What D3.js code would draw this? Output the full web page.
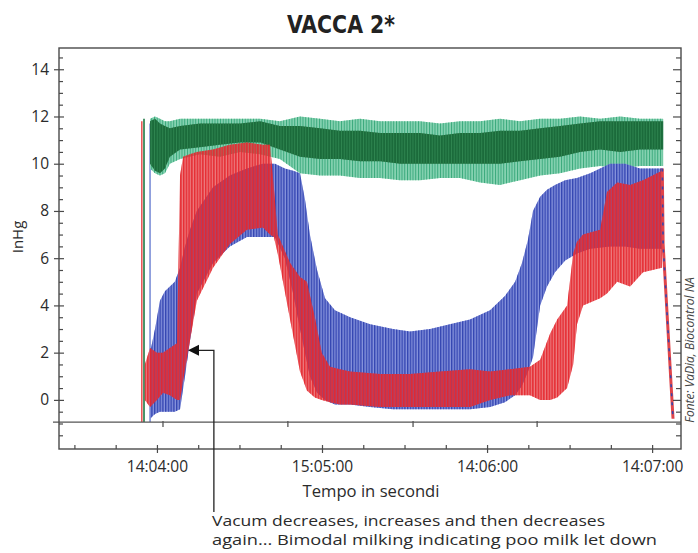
<!DOCTYPE html>
<html><head><meta charset="utf-8">
<script src="https://cdn.jsdelivr.net/npm/d3@7"></script>
<style>body{margin:0;background:#fff}svg{display:block}</style>
</head><body>
<svg id="c" width="698" height="553"></svg>
<script>
// ---------- DATA (time in seconds after 14:03:00, values in InHg) ----------
const title = "VACCA 2*";
const yLabel = "InHg";
const xLabel = "Tempo in secondi";
const source = "Fonte: VaDia, Biocontrol NA";
const noteLines = ["Vacum decreases, increases and then decreases",
                   "again... Bimodal milking indicating poo milk let down"];
const yTicks = [0, 2, 4, 6, 8, 10, 12, 14];
const xTicks = [60, 120, 180, 240];
const xTickLabels = ["14:04:00", "15:05:00", "14:06:00", "14:07:00"];
const baselineValue = -0.94;
const baselineTicks = [62.2, 107.6, 153.1, 198.2];

// green series (envelope of the pulsation: outer and core)
const greenT   = [57.5,59.3,61.1,62.9,64.7,68.4,75.6,82.9,90.2,97.5,104.7,112,119.3,126.5,133.8,141.1,148.4,155.6,162.9,170.2,177.5,184.7,192,199.3,206.5,213.8,221.1,228.4,235.6,242.9,244.0];
const greenLo  = [9.8,9.6,9.5,9.6,10.0,10.2,10.4,10.3,10.5,10.4,10.2,9.6,9.5,9.5,9.4,9.4,9.3,9.3,9.4,9.4,9.2,9.1,9.3,9.5,9.6,9.8,9.9,9.8,9.9,9.9,9.9];
const greenHi  = [11.9,12.0,11.9,11.8,11.8,11.9,11.9,11.9,11.9,11.9,11.8,12.0,11.9,11.8,11.9,11.8,11.8,11.8,11.7,11.8,11.8,11.9,11.8,11.9,11.9,12.0,11.9,12.0,11.9,11.9,11.9];
const greenCLo = [10.0,9.7,9.6,9.8,10.3,10.6,10.7,10.8,10.9,10.9,10.6,10.3,10.2,10.2,10.1,10.1,10.0,10.0,10.0,10.0,10.0,10.0,10.1,10.2,10.3,10.5,10.6,10.5,10.6,10.6,10.6];
const greenCHi = [11.8,11.9,11.7,11.6,11.5,11.6,11.7,11.7,11.7,11.8,11.6,11.6,11.5,11.4,11.4,11.3,11.3,11.3,11.2,11.3,11.3,11.4,11.4,11.5,11.6,11.7,11.8,11.8,11.8,11.8,11.8];

// blue series envelope
const blueT  = [57.5,59.3,61.1,62.9,64.7,66.5,68.4,70.2,72.0,74.5,80.4,86.5,92.7,98.5,102.9,106.5,109.5,112.0,113.8,115.6,118.2,121.1,124.7,130.2,137.5,145.8,152.0,159.3,166.5,173.8,181.1,186.5,190.2,192.7,194.9,196.7,199.3,201.8,204.7,208.4,212.7,217.5,224.7,230.2,235.6,241.1,243.6];
const blueLo = [-0.8,-0.6,-0.5,-0.5,-0.5,-0.5,-0.4,1.0,2.5,4.5,5.8,6.5,6.9,6.9,6.9,6.0,4.5,3.0,2.0,1.0,0.3,0.0,-0.2,-0.2,-0.3,-0.4,-0.4,-0.4,-0.4,-0.4,-0.3,-0.1,0.2,0.6,1.2,1.8,4.0,4.8,5.4,5.9,6.2,6.4,6.5,6.5,6.4,6.4,6.4];
const blueHi = [2.0,3.0,4.2,4.6,4.8,5.0,5.6,6.5,7.2,8.0,9.0,9.5,9.8,10.0,10.0,9.8,9.7,9.6,8.5,7.0,5.5,4.3,3.8,3.5,3.2,3.0,2.9,3.0,3.2,3.4,3.8,4.4,5.0,5.8,6.8,8.0,8.6,8.9,9.1,9.3,9.4,9.6,10.0,10.0,9.8,9.8,9.8];

// red series envelope
const redT  = [55.6,57.5,60.0,62.2,64.7,67.3,68.4,69.5,72.0,74.5,80.4,86.5,92.7,98.5,101.1,102.5,103.9,108.4,112.0,114.5,117.4,119.9,122.9,126.5,130.2,141.1,152.0,162.9,173.8,181.1,188.4,195.6,199.3,202.9,205.5,209.1,211.3,212.7,214.9,221.1,223.6,227.3,232.0,236.7,243.6];
const redLo = [0.0,-0.3,0.0,0.3,0.2,0.0,0.0,0.8,2.5,4.2,5.6,6.6,7.2,7.3,7.0,6.9,6.2,3.4,1.2,0.4,0.1,0.0,-0.1,-0.2,-0.2,-0.3,-0.3,-0.3,-0.3,0.0,0.2,0.2,0.0,0.0,0.1,0.5,1.5,3.2,4.0,4.3,4.5,5.0,4.8,5.4,5.6];
const redHi = [1.5,2.2,2.0,2.0,2.2,2.4,9.5,10.3,10.4,10.5,10.6,10.8,10.9,10.8,10.8,9.0,7.0,5.8,5.2,5.0,3.5,2.0,1.4,1.3,1.2,1.1,1.1,1.2,1.3,1.2,1.3,1.4,1.7,2.8,3.4,4.0,6.2,6.7,7.0,7.2,8.8,9.2,9.1,9.3,9.7];

// initial vacuum rise (one thin line per series) and final drop
const riseSeries = ["red", "green", "blue"];
const riseT      = [54.5, 55.3, 57.5];
const riseTop    = [11.8, 11.9, 11.7];
const dropT = [243.7, 244.0, 247.6];
const dropV = [9.8, 6.6, -0.8];

// annotation arrow (points at the first vacuum dip)
const arrowTipT = 71.3, arrowKneeT = 80.7, arrowV = 2.1;

// ---------- CHART ----------
const W = 698, H = 553;
const margin = {top: 48, right: 17, bottom: 104, left: 59};
const svg = d3.select("#c");
const x = d3.scaleLinear().domain([24.4, 250.5]).range([margin.left, W - margin.right]);
const y = d3.scaleLinear().domain([-2.08, 14.9]).range([H - margin.bottom, margin.top]);
const font = "'Open Sans', 'DejaVu Sans', sans-serif";
const ink = "#2b2b2b";

const defs = svg.append("defs");
function stripe(id, color, w, off) {
  defs.append("pattern").attr("id", id).attr("patternUnits", "userSpaceOnUse")
    .attr("width", 2.75).attr("height", 8).attr("x", off || 0)
    .append("rect").attr("width", w).attr("height", 8).attr("fill", color);
}
stripe("sGreenO", "#3aa97c", 1.0);
stripe("sGreenC", "#2f8650", 0.9);
stripe("sBlue", "#3446b2", 1.4);
stripe("sRed", "#e5232a", 1.5, 1.4);
defs.append("clipPath").attr("id", "plotClip").append("rect")
  .attr("x", margin.left).attr("y", margin.top)
  .attr("width", W - margin.left - margin.right).attr("height", H - margin.top - margin.bottom);

const zip = (T, lo, hi) => T.map((t, i) => ({t, lo: lo[i], hi: hi[i]}));
const area = d3.area().x(d => x(d.t)).y0(d => y(d.lo)).y1(d => y(d.hi)).curve(d3.curveLinear);

const plot = svg.append("g").attr("clip-path", "url(#plotClip)");

// rise lines
const riseColor = {red: "#ea5a5a", green: "#1f7a45", blue: "#7d8fd8"};
plot.selectAll("line.rise").data(riseT).join("line")
  .attr("x1", d => x(d)).attr("x2", d => x(d))
  .attr("y1", y(baselineValue)).attr("y2", (d, i) => y(riseTop[i]))
  .attr("stroke", (d, i) => riseColor[riseSeries[i]]).attr("stroke-width", 1.6);

// green
const gData = zip(greenT, greenLo, greenHi), gCore = zip(greenT, greenCLo, greenCHi);
plot.append("path").datum(gData).attr("d", area).attr("fill", "#86d2b1");
plot.append("path").datum(gData).attr("d", area).attr("fill", "url(#sGreenO)");
plot.append("path").datum(gCore).attr("d", area).attr("fill", "#1b6b3b");
plot.append("path").datum(gCore).attr("d", area).attr("fill", "url(#sGreenC)");

// blue
const bData = zip(blueT, blueLo, blueHi);
plot.append("path").datum(bData).attr("d", area).attr("fill", "#8693dc");
plot.append("path").datum(bData).attr("d", area).attr("fill", "url(#sBlue)");

// red (semi-transparent base -> purple tint where it overlaps blue)
const rData = zip(redT, redLo, redHi);
plot.append("path").datum(rData).attr("d", area).attr("fill", "#e2383e").attr("fill-opacity", 0.66);
plot.append("path").datum(rData).attr("d", area).attr("fill", "url(#sRed)").attr("opacity", 0.92);

// final drop
const drop = dropT.map((t, i) => ({t, v: dropV[i]}));
const dl = d3.line().x(d => x(d.t)).y(d => y(d.v));
plot.append("path").datum(drop).attr("d", dl).attr("fill", "none").attr("stroke", "#e0454a").attr("stroke-width", 3);
plot.append("path").datum(drop).attr("d", dl).attr("fill", "none").attr("stroke", "#3346b0")
  .attr("stroke-width", 1.6).attr("stroke-dasharray", "3 6");

// baseline line with its ticks (extends a bit left of the axis)
svg.append("line").attr("x1", margin.left - 6).attr("x2", W - margin.right)
  .attr("y1", y(baselineValue)).attr("y2", y(baselineValue))
  .attr("stroke", "#555").attr("stroke-width", 1.3);
svg.selectAll("line.bt").data(baselineTicks).join("line")
  .attr("x1", d => x(d)).attr("x2", d => x(d))
  .attr("y1", y(baselineValue) - 1).attr("y2", y(baselineValue) + 5)
  .attr("stroke", "#555").attr("stroke-width", 1.3);

// frame
svg.append("rect").attr("x", margin.left).attr("y", margin.top)
  .attr("width", W - margin.left - margin.right).attr("height", H - margin.top - margin.bottom)
  .attr("fill", "none").attr("stroke", "#4a4a4a").attr("stroke-width", 1.4);

function styleAxis(g) {
  g.select(".domain").remove();
  g.selectAll(".tick line").attr("stroke", "#4a4a4a").attr("stroke-width", 1.2);
  g.selectAll("text").attr("fill", ink).style("font-family", font).style("font-size", "15.5px");
}
const yMinor = d3.range(-2, 15, 0.5).filter(v => v % 2 !== 0);
const xMinor = d3.range(30, 250, 15).filter(v => !xTicks.includes(v));

// left axis
const gL = svg.append("g").attr("transform", `translate(${margin.left},0)`)
  .call(d3.axisLeft(y).tickValues(yTicks).tickSize(5).tickPadding(5)).call(styleAxis);
gL.selectAll(".tick line").attr("x2", -5).attr("x1", 5);
svg.append("g").attr("transform", `translate(${margin.left},0)`)
  .call(d3.axisLeft(y).tickValues(yMinor).tickSize(-4).tickFormat("")).call(styleAxis);
// right axis (inward ticks)
svg.append("g").attr("transform", `translate(${W - margin.right},0)`)
  .call(d3.axisRight(y).tickValues(yTicks).tickSize(-8).tickFormat("")).call(styleAxis);
svg.append("g").attr("transform", `translate(${W - margin.right},0)`)
  .call(d3.axisRight(y).tickValues(yMinor).tickSize(-5).tickFormat("")).call(styleAxis);
// bottom axis
const gB = svg.append("g").attr("transform", `translate(0,${H - margin.bottom})`)
  .call(d3.axisBottom(x).tickValues(xTicks).tickFormat((d, i) => xTickLabels[i]).tickSize(4).tickPadding(8))
  .call(styleAxis);
gB.selectAll(".tick line").attr("y1", -4);
svg.append("g").attr("transform", `translate(0,${H - margin.bottom})`)
  .call(d3.axisBottom(x).tickValues(xMinor).tickSize(-4).tickFormat("")).call(styleAxis);

// texts
svg.append("text").attr("x", 341).attr("y", 33).attr("text-anchor", "middle")
  .style("font-family", "'DejaVu Sans Condensed', 'DejaVu Sans', sans-serif")
  .style("font-weight", "bold").style("font-stretch", "condensed").style("font-size", "25px").attr("fill", "#222")
  .attr("textLength", 108).attr("lengthAdjust", "spacingAndGlyphs").text(title);
svg.append("text").attr("transform", "translate(23,237) rotate(-90)").attr("text-anchor", "middle")
  .style("font-family", font).style("font-size", "15px").attr("fill", ink).text(yLabel);
svg.append("text").attr("x", 371).attr("y", 497).attr("text-anchor", "middle")
  .style("font-family", font).style("font-size", "15.5px").attr("fill", ink)
  .attr("textLength", 137).attr("lengthAdjust", "spacingAndGlyphs").text(xLabel);
svg.append("text").attr("transform", "translate(694,350) rotate(-90)").attr("text-anchor", "middle")
  .style("font-family", font).style("font-style", "italic").style("font-size", "12px")
  .attr("fill", "#444").text(source);

// annotation
const noteX = 212, noteY = [526, 545], noteLen = [393, 445];
svg.selectAll("text.note").data(noteLines).join("text")
  .attr("x", noteX).attr("y", (d, i) => noteY[i])
  .style("font-family", font).style("font-size", "14px").attr("fill", ink)
  .attr("textLength", (d, i) => noteLen[i]).attr("lengthAdjust", "spacingAndGlyphs").text(d => d);
const tipX = x(arrowTipT), kneeX = x(arrowKneeT), ay = y(arrowV);
svg.append("path").attr("d", `M${kneeX},${noteY[0] - 14}V${ay}H${tipX + 8}`)
  .attr("fill", "none").attr("stroke", "#222").attr("stroke-width", 1.3);
svg.append("path").attr("d", `M${tipX},${ay}l11,-5.5v11z`).attr("fill", "#111");
</script>
</body></html>
